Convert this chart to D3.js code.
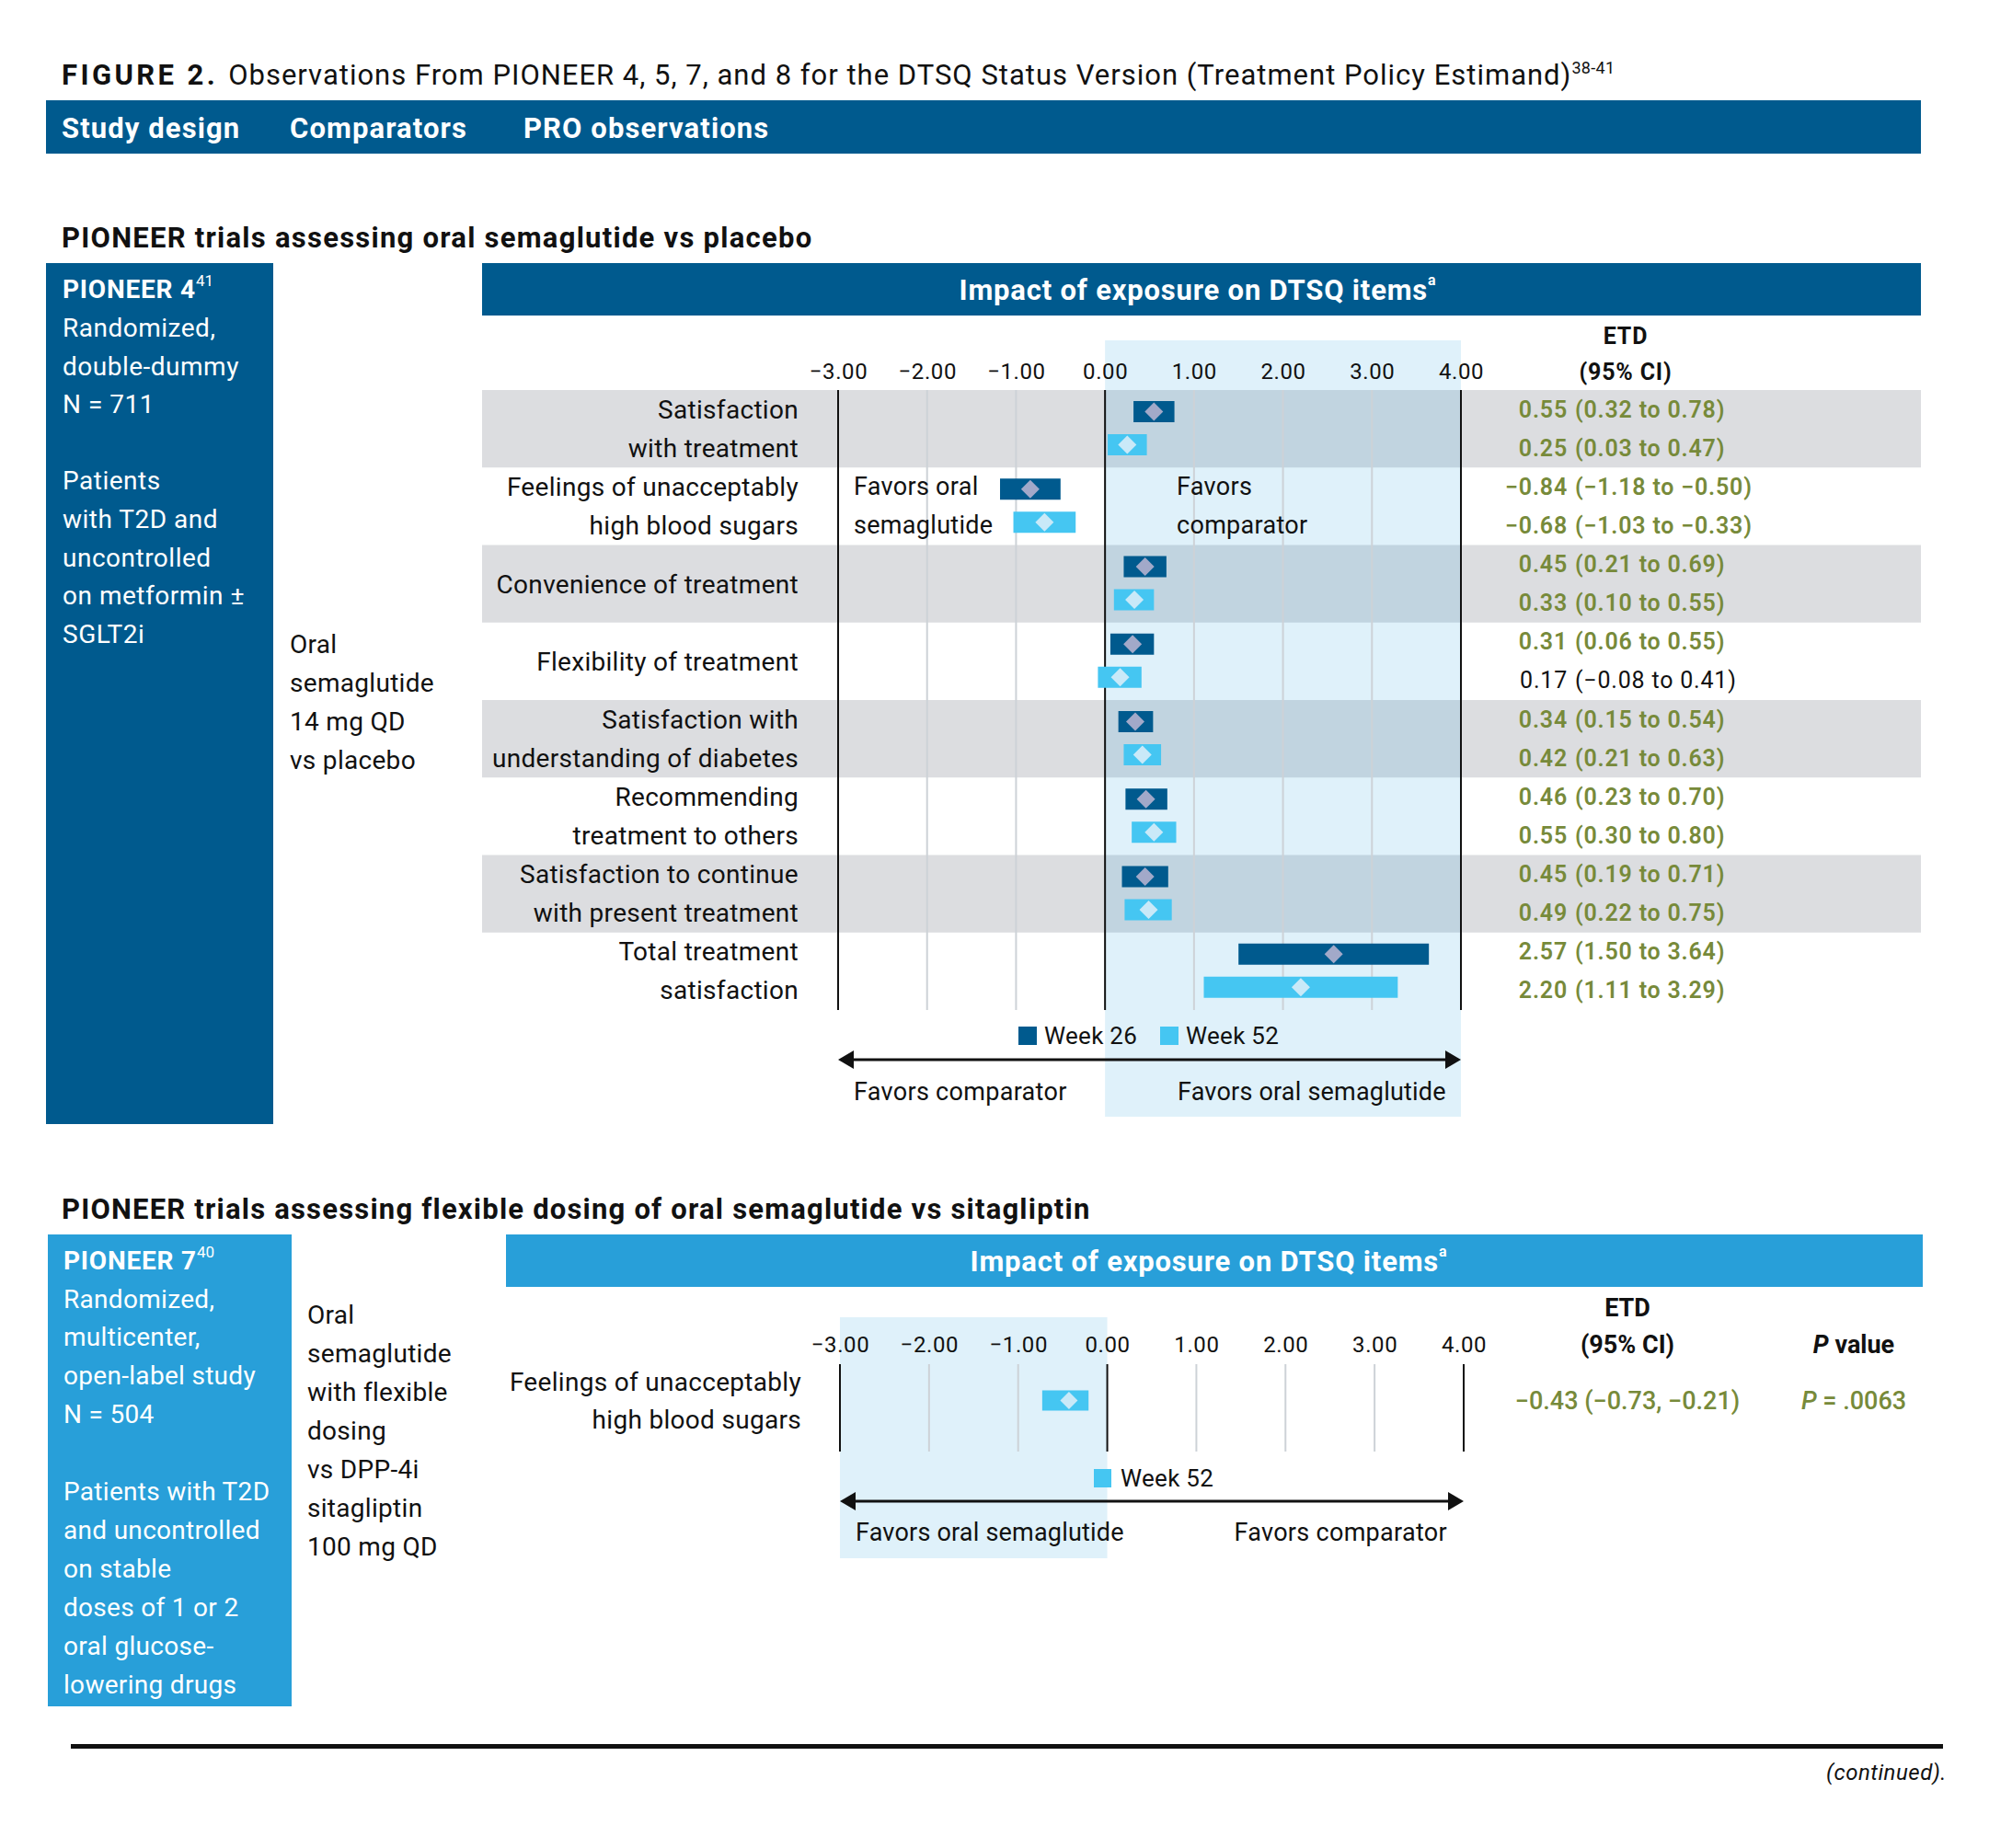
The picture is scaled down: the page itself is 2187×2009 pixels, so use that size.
<!DOCTYPE html>
<html><head><meta charset="utf-8">
<script src="https://cdn.jsdelivr.net/npm/d3@7/dist/d3.min.js"></script>
<style>
html,body{margin:0;padding:0;background:#fff;}
svg text{font-family:Roboto,"Liberation Sans",sans-serif;}
</style></head>
<body>
<svg id="chart" width="2187" height="2009"></svg>
<script>
// ---------------- DATA ----------------
const tickValues = [-3, -2, -1, 0, 1, 2, 3, 4];
const headerLabels = ["Study design", "Comparators", "PRO observations"];

// PIONEER 4 (oral semaglutide vs placebo)
const p4Categories = [
  ["Satisfaction", "with treatment"],
  ["Feelings of unacceptably", "high blood sugars"],
  ["Convenience of treatment"],
  ["Flexibility of treatment"],
  ["Satisfaction with", "understanding of diabetes"],
  ["Recommending", "treatment to others"],
  ["Satisfaction to continue", "with present treatment"],
  ["Total treatment", "satisfaction"]
];
const p4Week26Est = [0.55, -0.84, 0.45, 0.31, 0.34, 0.46, 0.45, 2.57];
const p4Week26Lo  = [0.32, -1.18, 0.21, 0.06, 0.15, 0.23, 0.19, 1.50];
const p4Week26Hi  = [0.78, -0.50, 0.69, 0.55, 0.54, 0.70, 0.71, 3.64];
const p4Week52Est = [0.25, -0.68, 0.33, 0.17, 0.42, 0.55, 0.49, 2.20];
const p4Week52Lo  = [0.03, -1.03, 0.10, -0.08, 0.21, 0.30, 0.22, 1.11];
const p4Week52Hi  = [0.47, -0.33, 0.55, 0.41, 0.63, 0.80, 0.75, 3.29];
const p4Design = ["Randomized,", "double-dummy", "N = 711", "", "Patients", "with T2D and", "uncontrolled", "on metformin ±", "SGLT2i"];
const p4Comparator = ["Oral", "semaglutide", "14 mg QD", "vs placebo"];
const p4Legend = ["Week 26", "Week 52"];

// PIONEER 7 (flexible dosing vs sitagliptin)
const p7Categories = [["Feelings of unacceptably", "high blood sugars"]];
const p7Week52Est = [-0.43];
const p7Week52Lo  = [-0.73];
const p7Week52Hi  = [-0.21];
const p7PValue    = [".0063"];
const p7Design = ["Randomized,", "multicenter,", "open-label study", "N = 504", "", "Patients with T2D", "and uncontrolled", "on stable", "doses of 1 or 2", "oral glucose-", "lowering drugs"];
const p7Comparator = ["Oral", "semaglutide", "with flexible", "dosing", "vs DPP-4i", "sitagliptin", "100 mg QD"];
const p7Legend = ["Week 52"];

// ---------------- STYLE ----------------
const C = {
  dark: "#005a8e", light: "#45c6f2", mid: "#289fd9",
  d26: "#a2a9c9", d52: "#c9e9f8",
  gray: "#dcdde0", lb: "#dff0f8", grid: "#cdd2d7",
  olive: "#778a3a", black: "#111"
};
const fmt = d3.format(".2f");
const svg = d3.select("#chart");

// ---------------- TITLE / HEADER ----------------
const title = svg.append("text").attr("x", 67).attr("y", 92).attr("font-size", 31).attr("fill", C.black);
title.append("tspan").attr("font-weight", 700).attr("letter-spacing", 3.4).text("FIGURE 2. ");
title.append("tspan").attr("letter-spacing", 1.0).text("Observations From PIONEER 4, 5, 7, and 8 for the DTSQ Status Version (Treatment Policy Estimand)");
title.append("tspan").attr("font-size", 18).attr("letter-spacing", 0.3).attr("dy", -12).text("38-41");

svg.append("rect").attr("x", 50).attr("y", 109).attr("width", 2038).attr("height", 58).attr("fill", C.dark);
const hdrX = [67, 315, 569];
svg.selectAll("text.hdr").data(headerLabels).join("text").attr("class", "hdr")
  .attr("x", (d, i) => hdrX[i]).attr("y", 139).attr("dominant-baseline", "central")
  .attr("font-size", 31).attr("letter-spacing", 1.1).attr("font-weight", 700).attr("fill", "#fff").text(d => d);

// ---------------- SECTION 1 ----------------
svg.append("text").attr("x", 67).attr("y", 258).attr("dominant-baseline", "central")
  .attr("font-size", 31).attr("letter-spacing", 1.25).attr("font-weight", 700).attr("fill", C.black)
  .text("PIONEER trials assessing oral semaglutide vs placebo");

// left box
svg.append("rect").attr("x", 50).attr("y", 286).attr("width", 247).attr("height", 936).attr("fill", C.dark);
const b1 = svg.append("text").attr("x", 68).attr("y", 314).attr("dominant-baseline", "central").attr("fill", "#fff").attr("font-size", 28);
b1.append("tspan").attr("font-weight", 700).attr("letter-spacing", 0.8).text("PIONEER 4");
b1.append("tspan").attr("font-size", 17).attr("dy", -9).text("41");
svg.selectAll("text.d1").data(p4Design).join("text").attr("class", "d1")
  .attr("x", 68).attr("y", (d, i) => 356.5 + i * 41.6).attr("dominant-baseline", "central")
  .attr("font-size", 28).attr("letter-spacing", 0.5).attr("fill", "#fff").text(d => d);
svg.selectAll("text.c1").data(p4Comparator).join("text").attr("class", "c1")
  .attr("x", 315).attr("y", (d, i) => 700 + i * 42).attr("dominant-baseline", "central")
  .attr("font-size", 28).attr("letter-spacing", 0.3).attr("fill", C.black).text(d => d);

// band header
svg.append("rect").attr("x", 524).attr("y", 286).attr("width", 1564).attr("height", 57).attr("fill", C.dark);
const h1 = svg.append("text").attr("x", 1302).attr("y", 315).attr("text-anchor", "middle").attr("dominant-baseline", "central")
  .attr("font-size", 31).attr("letter-spacing", 0.8).attr("font-weight", 700).attr("fill", "#fff");
h1.append("tspan").text("Impact of exposure on DTSQ items");
h1.append("tspan").attr("font-size", 16).attr("dy", -11).text("a");

const x1 = d3.scaleLinear().domain([-3, 4]).range([911, 1588]);
const y1 = d3.scaleBand().domain(d3.range(p4Categories.length)).range([424, 1098]);
const bw = y1.bandwidth();

// gray rows
svg.selectAll("rect.gr1").data(d3.range(p4Categories.length).filter(i => i % 2 === 0)).join("rect").attr("class", "gr1")
  .attr("x", 524).attr("width", 1564).attr("y", i => y1(i)).attr("height", bw).attr("fill", C.gray);
// light blue "favors" region
svg.append("rect").attr("x", x1(0)).attr("width", x1(4) - x1(0)).attr("y", 370).attr("height", 844)
  .attr("fill", "#3aa8de").attr("fill-opacity", 0.16);

// grid lines
svg.selectAll("line.g1").data(tickValues).join("line").attr("class", "g1")
  .attr("x1", d => x1(d)).attr("x2", d => x1(d)).attr("y1", 424).attr("y2", 1098)
  .attr("stroke", d => (d === -3 || d === 0 || d === 4) ? C.black : C.grid)
  .attr("stroke-width", 2);

// axis (tick labels)
const ax1 = svg.append("g").attr("transform", "translate(0,404)")
  .call(d3.axisTop(x1).tickValues(tickValues).tickFormat(fmt).tickSize(0).tickPadding(0));
ax1.select(".domain").remove();
ax1.selectAll("text").attr("font-size", 24).attr("letter-spacing", 0.6).attr("fill", C.black).attr("font-family", "Roboto")
  .attr("dy", "0.35em");

// bars
const barH = 23;
function diamond(cx, cy, r) { return `M${cx},${cy - r}L${cx + r},${cy}L${cx},${cy + r}L${cx - r},${cy}Z`; }
const series1 = [
  { est: p4Week26Est, lo: p4Week26Lo, hi: p4Week26Hi, fill: C.dark, dfill: C.d26, off: 23.5 },
  { est: p4Week52Est, lo: p4Week52Lo, hi: p4Week52Hi, fill: C.light, dfill: C.d52, off: 59.5 }
];
series1.forEach((s, k) => {
  const g = svg.append("g");
  g.selectAll("rect").data(s.est).join("rect")
    .attr("x", (d, i) => x1(s.lo[i])).attr("width", (d, i) => x1(s.hi[i]) - x1(s.lo[i]))
    .attr("y", (d, i) => y1(i) + s.off - barH / 2).attr("height", barH).attr("fill", s.fill);
  g.selectAll("path").data(s.est).join("path")
    .attr("d", (d, i) => diamond(x1(d), y1(i) + s.off, 10)).attr("fill", s.dfill);
});

// category labels
p4Categories.forEach((lines, i) => {
  const offs = lines.length === 2 ? [21, 63] : [43];
  lines.forEach((t, j) => {
    svg.append("text").attr("x", 868).attr("y", y1(i) + offs[j]).attr("text-anchor", "end")
      .attr("dominant-baseline", "central").attr("font-size", 28).attr("letter-spacing", 0.3).attr("fill", C.black).text(t);
  });
});

// ETD column
const etdFont = "'Open Sans', sans-serif";
[["ETD", 365], ["(95% CI)", 404]].forEach(([t, y]) => {
  svg.append("text").attr("x", 1767).attr("y", y).attr("text-anchor", "middle").attr("dominant-baseline", "central")
    .attr("font-family", etdFont).attr("font-size", 25).attr("font-weight", 700).attr("letter-spacing", 0.8)
    .attr("fill", C.black).text(t);
});
series1.forEach((s, k) => {
  s.est.forEach((d, i) => {
    const y = y1(i) + (k === 0 ? 21 : 63);
    const sig = !(s.lo[i] < 0 && s.hi[i] > 0);
    const col = sig ? C.olive : C.black;
    svg.append("text").attr("x", 1704).attr("y", y).attr("text-anchor", "end").attr("dominant-baseline", "central")
      .attr("font-family", etdFont).attr("font-size", 25).attr("letter-spacing", 0.8).attr("fill", col).attr("font-weight", sig ? 600 : 400)
      .text(fmt(d));
    svg.append("text").attr("x", 1712).attr("y", y).attr("dominant-baseline", "central")
      .attr("font-family", etdFont).attr("font-size", 25).attr("letter-spacing", 0.8).attr("fill", col).attr("font-weight", sig ? 600 : 400)
      .text(`(${fmt(s.lo[i])} to ${fmt(s.hi[i])})`);
  });
});

// in-plot favors labels
[["Favors oral", 928, 0], ["semaglutide", 928, 1], ["Favors", 1279, 0], ["comparator", 1279, 1]].forEach(([t, x, j]) => {
  svg.append("text").attr("x", x).attr("y", y1(1) + (j ? 63 : 21)).attr("dominant-baseline", "central")
    .attr("font-size", 27).attr("letter-spacing", 0.3).attr("fill", C.black).text(t);
});

// legend
const lg1x = [1107, 1261];
p4Legend.forEach((t, i) => {
  svg.append("rect").attr("x", lg1x[i]).attr("y", 1116).attr("width", 20).attr("height", 20).attr("fill", i === 0 ? C.dark : C.light);
  svg.append("text").attr("x", lg1x[i] + 28).attr("y", 1126).attr("dominant-baseline", "central")
    .attr("font-size", 26).attr("letter-spacing", 0.3).attr("fill", C.black).text(t);
});

// double arrow
function dblArrow(xa, xb, y) {
  svg.append("line").attr("x1", xa + 8).attr("x2", xb - 8).attr("y1", y).attr("y2", y).attr("stroke", C.black).attr("stroke-width", 3);
  svg.append("path").attr("d", `M${xa},${y}L${xa + 17},${y - 10}L${xa + 17},${y + 10}Z`).attr("fill", C.black);
  svg.append("path").attr("d", `M${xb},${y}L${xb - 17},${y - 10}L${xb - 17},${y + 10}Z`).attr("fill", C.black);
}
dblArrow(x1(-3), x1(4), 1152);
svg.append("text").attr("x", 928).attr("y", 1187).attr("dominant-baseline", "central").attr("font-size", 27).attr("letter-spacing", 0.3).attr("fill", C.black).text("Favors comparator");
svg.append("text").attr("x", 1280).attr("y", 1187).attr("dominant-baseline", "central").attr("font-size", 27).attr("letter-spacing", 0.2).attr("fill", C.black).text("Favors oral semaglutide");

// ---------------- SECTION 2 ----------------
svg.append("text").attr("x", 67).attr("y", 1314).attr("dominant-baseline", "central")
  .attr("font-size", 31).attr("letter-spacing", 1.2).attr("font-weight", 700).attr("fill", C.black)
  .text("PIONEER trials assessing flexible dosing of oral semaglutide vs sitagliptin");

svg.append("rect").attr("x", 52).attr("y", 1342).attr("width", 265).attr("height", 513).attr("fill", C.mid);
const b2 = svg.append("text").attr("x", 69).attr("y", 1370).attr("dominant-baseline", "central").attr("fill", "#fff").attr("font-size", 28);
b2.append("tspan").attr("font-weight", 700).attr("letter-spacing", 0.8).text("PIONEER 7");
b2.append("tspan").attr("font-size", 17).attr("dy", -9).text("40");
svg.selectAll("text.d2").data(p7Design).join("text").attr("class", "d2")
  .attr("x", 69).attr("y", (d, i) => 1412 + i * 41.9).attr("dominant-baseline", "central")
  .attr("font-size", 28).attr("letter-spacing", 0.3).attr("fill", "#fff").text(d => d);
svg.selectAll("text.c2").data(p7Comparator).join("text").attr("class", "c2")
  .attr("x", 334).attr("y", (d, i) => 1429 + i * 42).attr("dominant-baseline", "central")
  .attr("font-size", 28).attr("letter-spacing", 0.3).attr("fill", C.black).text(d => d);

svg.append("rect").attr("x", 550).attr("y", 1342).attr("width", 1540).attr("height", 57).attr("fill", C.mid);
const h2 = svg.append("text").attr("x", 1314).attr("y", 1371).attr("text-anchor", "middle").attr("dominant-baseline", "central")
  .attr("font-size", 31).attr("letter-spacing", 0.8).attr("font-weight", 700).attr("fill", "#fff");
h2.append("tspan").text("Impact of exposure on DTSQ items");
h2.append("tspan").attr("font-size", 16).attr("dy", -11).text("a");

const x2 = d3.scaleLinear().domain([-3, 4]).range([913, 1591]);
svg.append("rect").attr("x", x2(-3)).attr("width", x2(0) - x2(-3)).attr("y", 1432).attr("height", 262)
  .attr("fill", "#3aa8de").attr("fill-opacity", 0.16);
svg.selectAll("line.g2").data(tickValues).join("line").attr("class", "g2")
  .attr("x1", d => x2(d)).attr("x2", d => x2(d)).attr("y1", 1483).attr("y2", 1578)
  .attr("stroke", d => (d === -3 || d === 0 || d === 4) ? C.black : C.grid).attr("stroke-width", 2);
const ax2 = svg.append("g").attr("transform", "translate(0,1462)")
  .call(d3.axisTop(x2).tickValues(tickValues).tickFormat(fmt).tickSize(0).tickPadding(0));
ax2.select(".domain").remove();
ax2.selectAll("text").attr("font-size", 24).attr("letter-spacing", 0.6).attr("fill", C.black).attr("font-family", "Roboto").attr("dy", "0.35em");

const y2c = [1522.5];
const g2 = svg.append("g");
g2.selectAll("rect").data(p7Week52Est).join("rect")
  .attr("x", (d, i) => x2(p7Week52Lo[i])).attr("width", (d, i) => x2(p7Week52Hi[i]) - x2(p7Week52Lo[i]))
  .attr("y", (d, i) => y2c[i] - 11).attr("height", 22).attr("fill", C.light);
g2.selectAll("path").data(p7Week52Est).join("path")
  .attr("d", (d, i) => diamond(x2(d), y2c[i], 9.5)).attr("fill", C.d52);

p7Categories[0].forEach((t, j) => {
  svg.append("text").attr("x", 871).attr("y", 1502 + j * 41).attr("text-anchor", "end").attr("dominant-baseline", "central")
    .attr("font-size", 28).attr("letter-spacing", 0.3).attr("fill", C.black).text(t);
});
[["ETD", 1422], ["(95% CI)", 1462]].forEach(([t, y]) => {
  svg.append("text").attr("x", 1769).attr("y", y).attr("text-anchor", "middle").attr("dominant-baseline", "central")
    .attr("font-size", 27).attr("font-weight", 700).attr("fill", C.black).text(t);
});
const pv = svg.append("text").attr("x", 2015).attr("y", 1462).attr("text-anchor", "middle").attr("dominant-baseline", "central")
  .attr("font-size", 27).attr("font-weight", 700).attr("fill", C.black);
pv.append("tspan").attr("font-style", "italic").text("P");
pv.append("tspan").text(" value");
p7Week52Est.forEach((d, i) => {
  svg.append("text").attr("x", 1769).attr("y", y2c[i]).attr("text-anchor", "middle").attr("dominant-baseline", "central")
    .attr("font-size", 27).attr("font-weight", 500).attr("fill", C.olive)
    .text(`${fmt(d)} (${fmt(p7Week52Lo[i])}, ${fmt(p7Week52Hi[i])})`);
  const pt = svg.append("text").attr("x", 2015).attr("y", y2c[i]).attr("text-anchor", "middle").attr("dominant-baseline", "central")
    .attr("font-size", 27).attr("font-weight", 500).attr("fill", C.olive);
  pt.append("tspan").attr("font-style", "italic").text("P");
  pt.append("tspan").text(" = " + p7PValue[i]);
});

svg.append("rect").attr("x", 1189).attr("y", 1597).attr("width", 19).attr("height", 20).attr("fill", C.light);
svg.append("text").attr("x", 1218).attr("y", 1607).attr("dominant-baseline", "central").attr("font-size", 26).attr("letter-spacing", 0.3).attr("fill", C.black).text(p7Legend[0]);
dblArrow(x2(-3), x2(4), 1632);
svg.append("text").attr("x", 930).attr("y", 1666).attr("dominant-baseline", "central").attr("font-size", 27).attr("letter-spacing", 0.2).attr("fill", C.black).text("Favors oral semaglutide");
svg.append("text").attr("x", 1573).attr("y", 1666).attr("text-anchor", "end").attr("dominant-baseline", "central").attr("font-size", 27).attr("letter-spacing", 0.3).attr("fill", C.black).text("Favors comparator");

// ---------------- FOOTER ----------------
svg.append("line").attr("x1", 77).attr("x2", 2112).attr("y1", 1898.5).attr("y2", 1898.5).attr("stroke", C.black).attr("stroke-width", 5);
svg.append("text").attr("x", 2116).attr("y", 1927).attr("text-anchor", "end").attr("dominant-baseline", "central")
  .attr("font-size", 24).attr("letter-spacing", 0.5).attr("font-style", "italic").attr("fill", C.black).text("(continued).");
</script>
</body></html>
